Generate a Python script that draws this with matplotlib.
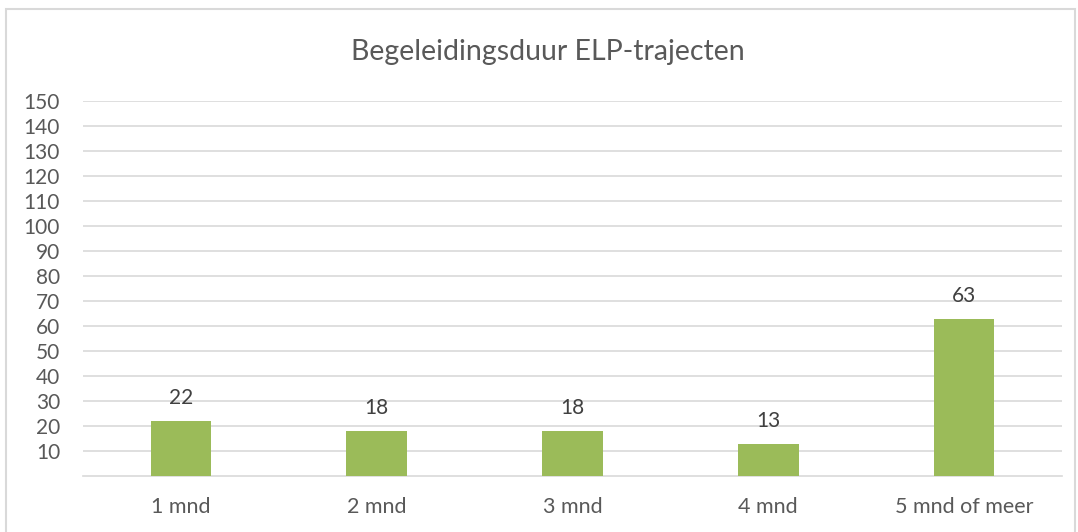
import matplotlib
matplotlib.use("Agg")
import matplotlib.pyplot as plt
from matplotlib.patches import Rectangle

categories = ["1 mnd", "2 mnd", "3 mnd", "4 mnd", "5 mnd of meer"]
values = [22, 18, 18, 13, 63]
yticks = list(range(10, 151, 10))
title = "Begeleidingsduur ELP-trajecten"

W, H = 1078, 532
plt.rcParams['font.family'] = ['Lato', 'DejaVu Sans']
fig = plt.figure(figsize=(W / 100, H / 100), dpi=100)

# outer chart border
fig.patches.append(Rectangle((6 / W, -0.05), (1075 - 6) / W, (H - 9) / H + 0.05,
                             transform=fig.transFigure, fill=False,
                             edgecolor="#D9D9D9", linewidth=1.5))

ax = fig.add_axes([83 / W, 56 / H, (1062 - 83) / W, (476 - 101) / H])
x = list(range(len(categories)))
ax.bar(x, values, width=0.31, color="#9BBB59", zorder=3)
ax.set_xlim(-0.5, len(categories) - 0.5)
ax.set_ylim(0, 150)
ax.set_yticks(yticks)
ax.set_yticklabels([str(t) for t in yticks])
ax.set_xticks(x)
ax.set_xticklabels(categories)
for t in yticks:
    ax.axhline(t, color="#D9D9D9", linewidth=1.2, zorder=1)
for s in ["top", "right", "left"]:
    ax.spines[s].set_visible(False)
ax.spines["bottom"].set_color("#D9D9D9")
ax.spines["bottom"].set_linewidth(1.2)
ax.tick_params(axis="both", length=0, colors="#595959")
ax.tick_params(axis="y", pad=16.5, labelsize=15)
ax.tick_params(axis="x", pad=15, labelsize=15.5)
for xi, v in zip(x, values):
    ax.annotate(str(v), (xi, v), xytext=(0, 9), textcoords="offset points",
                ha="center", va="bottom", fontsize=15, color="#404040")

fig.text(548 / W, 1 - 52 / H, title, ha="center", va="center",
         fontsize=20.5, color="#595959")

fig.savefig("out.png", dpi=100)
